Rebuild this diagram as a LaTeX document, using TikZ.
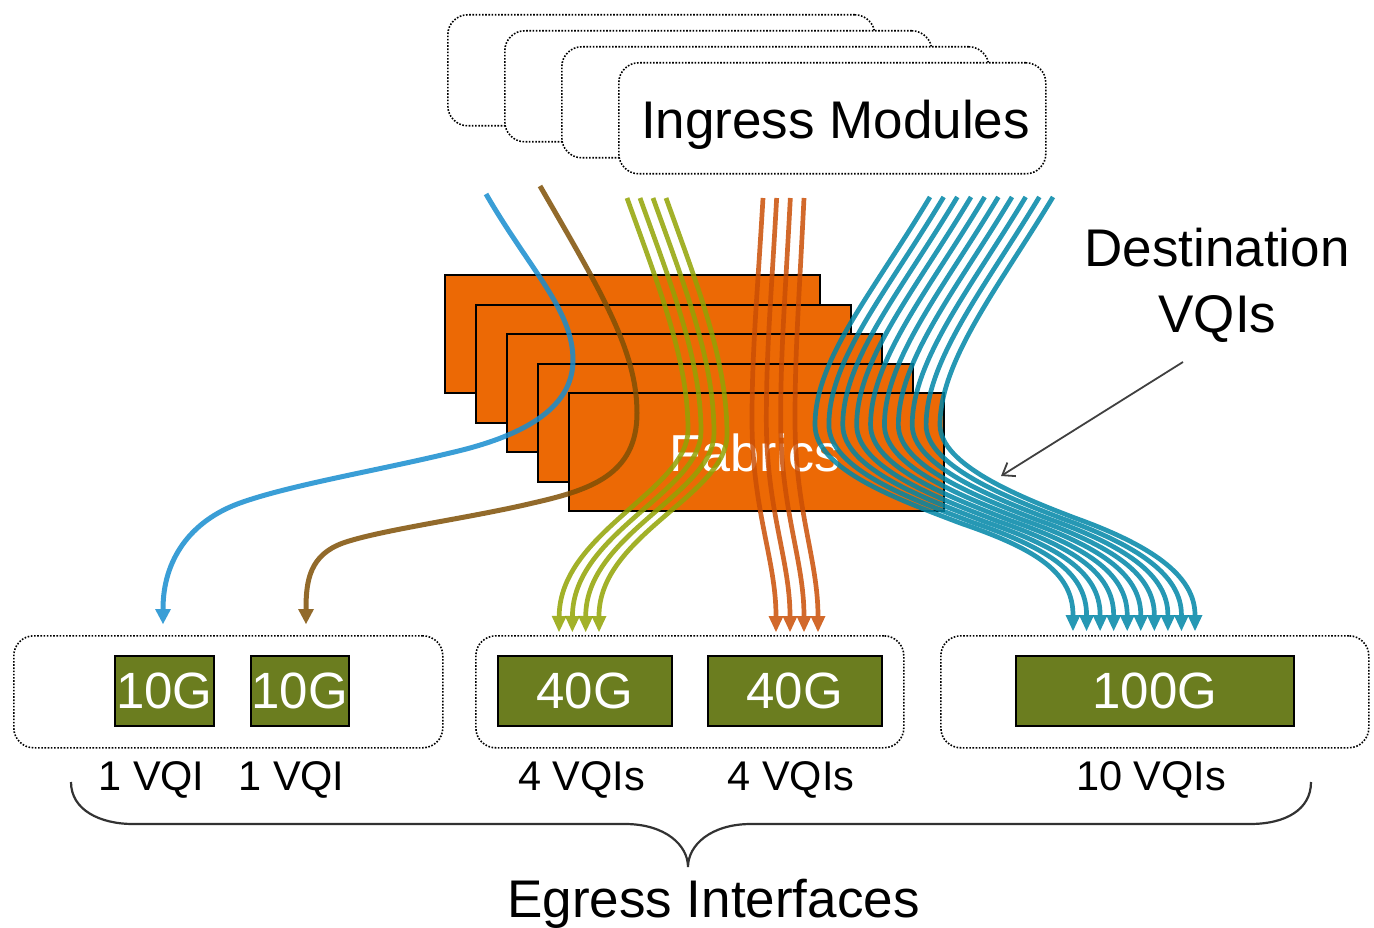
\documentclass[tikz,border=0pt]{standalone}
\usepackage{fontspec}
\setmainfont{Liberation Sans}
\usetikzlibrary{arrows.meta,calc}
\definecolor{fabricorange}{RGB}{236,105,5}
\definecolor{portolive}{RGB}{107,125,31}
\definecolor{flowblue}{RGB}{24,141,207}
\definecolor{flowbrown}{RGB}{127,80,6}
\definecolor{flowgreen}{RGB}{146,163,4}
\definecolor{floworange}{RGB}{202,79,6}
\definecolor{flowteal}{RGB}{0,134,167}
\definecolor{bracegray}{RGB}{50,50,50}
\definecolor{ptrgray}{RGB}{64,64,64}
\tikzset{
  dotbox/.style={draw=black, line width=1.6pt, dash pattern=on 1.6pt off 1.6pt, rounded corners=20pt, anchor=north west, inner sep=0pt},
  ingbox/.style={dotbox, fill=white, minimum width=427pt, minimum height=111pt},
  egbox/.style={dotbox, minimum height=112pt},
  fabricbox/.style={draw=black, line width=1.6pt, fill=fabricorange, anchor=north west, minimum width=375pt, minimum height=118pt, inner sep=0pt},
  portbox/.style={draw=black, line width=1.6pt, fill=portolive, anchor=north west, minimum height=70pt, inner sep=0pt, text=white, font=\fontsize{51}{60}\selectfont},
  bigtext/.style={font=\fontsize{53}{60}\selectfont, inner sep=0pt, anchor=base},
  vqitext/.style={font=\fontsize{41.5}{50}\selectfont, inner sep=0pt, anchor=base},
  bundleflow/.style={line width=4.7pt, opacity=0.85, -{Triangle[width=15pt,length=16pt,line width=0pt]}},
  singleflow/.style={line width=5pt, opacity=0.85, -{Triangle[width=16pt,length=15pt,line width=0pt]}},
  bracestyle/.style={draw=bracegray, line width=2.2pt},
  pointer/.style={draw=ptrgray, line width=1.8pt, -{Straight Barb[length=11pt,width=16pt]}},
}
\begin{document}
\begin{tikzpicture}[x=1pt,y=-1pt]
\useasboundingbox (0,0) rectangle (1374,928);

% Ingress modules
\node[ingbox] (im1) at (447,14) {};
\node[ingbox] (im2) at (504,30) {};
\node[ingbox] (im3) at (561,46) {};
\node[ingbox] (im4) at (618,62) {};
\node[bigtext] (imlabel) at (835.5,139) {Ingress Modules};

% Fabrics
\node[fabricbox] (fab1) at (444,274) {};
\node[fabricbox] (fab2) at (475,304) {};
\node[fabricbox] (fab3) at (506,333) {};
\node[fabricbox] (fab4) at (537,363) {};
\node[fabricbox] (fab5) at (568,392) {};
\node[bigtext, text=white, font=\fontsize{52}{60}\selectfont] (fablabel) at (755,471) {Fabrics};

% single flows
\coordinate (bS) at (486,194);
\coordinate (bE) at (163,624);
\draw[singleflow, flowblue] (bS) .. controls (530,270) and (573,310) .. (573,360)
  .. controls (573,410) and (520,437) .. (450,453)
  .. controls (380,470) and (290,485) .. (240,503)
  .. controls (190,521) and (163,560) .. (bE);
\coordinate (rS) at (540,186);
\coordinate (rE) at (306,624);
\draw[singleflow, flowbrown] (rS) .. controls (600,290) and (637,350) .. (637,413)
  .. controls (637,475) and (590,490) .. (533,503)
  .. controls (470,518) and (380,530) .. (343,543)
  .. controls (310,555) and (306,580) .. (rE);

% bundle control points
\foreach \n/\ax/\ay/\bx/\by in {0/627/198/666/198, 1/660/290/699/290, 2/688/360/727/360, 3/688/430/727/435, 4/688/490/727/495, 5/560/532/599/535, 6/559/632/599/632}{
  \coordinate (gA\n) at (\ax,\ay); \coordinate (gB\n) at (\bx,\by);}
\foreach \n/\ax/\ay/\bx/\by in {0/763/198/804/198, 1/757/300/799/300, 2/752/350/795/350, 3/752/420/795/420, 4/752/510/795/510, 5/776/560/818/560, 6/776/632/818/632}{
  \coordinate (oA\n) at (\ax,\ay); \coordinate (oB\n) at (\bx,\by);}
\foreach \n/\ax/\ay/\bx/\by in {0/930/197/1053/197, 1/870/297/1000/285, 2/815/360/940/360, 3/815/425/940/425, 4/815/470/940/465, 5/900/500/1020/497, 6/960/523/1075/518, 7/1030/547/1150/545, 8/1073/570/1195/575, 9/1073/631/1195/631}{
  \coordinate (tA\n) at (\ax,\ay); \coordinate (tB\n) at (\bx,\by);}

% green bundle
\foreach \i in {0,...,3}{
  \pgfmathsetmacro{\mix}{\i/3}
  \draw[bundleflow, flowgreen] ($(gA0)!\mix!(gB0)$) .. controls ($(gA1)!\mix!(gB1)$) and ($(gA2)!\mix!(gB2)$) .. ($(gA3)!\mix!(gB3)$)
    .. controls ($(gA4)!\mix!(gB4)$) and ($(gA5)!\mix!(gB5)$) .. ($(gA6)!\mix!(gB6)$);
}
% orange bundle
\foreach \i in {0,...,3}{
  \pgfmathsetmacro{\mix}{\i/3}
  \draw[bundleflow, floworange] ($(oA0)!\mix!(oB0)$) .. controls ($(oA1)!\mix!(oB1)$) and ($(oA2)!\mix!(oB2)$) .. ($(oA3)!\mix!(oB3)$)
    .. controls ($(oA4)!\mix!(oB4)$) and ($(oA5)!\mix!(oB5)$) .. ($(oA6)!\mix!(oB6)$);
}
% teal bundle
\foreach \i in {0,...,9}{
  \pgfmathsetmacro{\mix}{\i/9}
  \draw[bundleflow, flowteal] ($(tA0)!\mix!(tB0)$) .. controls ($(tA1)!\mix!(tB1)$) and ($(tA2)!\mix!(tB2)$) .. ($(tA3)!\mix!(tB3)$)
    .. controls ($(tA4)!\mix!(tB4)$) and ($(tA5)!\mix!(tB5)$) .. ($(tA6)!\mix!(tB6)$)
    .. controls ($(tA7)!\mix!(tB7)$) and ($(tA8)!\mix!(tB8)$) .. ($(tA9)!\mix!(tB9)$);
}

% Egress
\node[egbox, minimum width=429pt] (eg1) at (13,635) {};
\node[egbox, minimum width=428pt] (eg2) at (475,635) {};
\node[egbox, minimum width=428pt] (eg3) at (940,635) {};
\node[portbox, minimum width=99pt] (p10a) at (114,655) {10G};
\node[portbox, minimum width=98pt] (p10b) at (250,655) {10G};
\node[portbox, minimum width=174pt] (p40a) at (497,655) {40G};
\node[portbox, minimum width=174pt] (p40b) at (707,655) {40G};
\node[portbox, minimum width=278pt] (p100) at (1015,655) {100G};

\node[vqitext] (v1) at (151.5,790) {1 VQI};
\node[vqitext] (v2) at (291.5,790) {1 VQI};
\node[vqitext] (v3) at (581.5,790) {4 VQIs};
\node[vqitext] (v4) at (791,790) {4 VQIs};
\node[vqitext] (v5) at (1151,790) {10 VQIs};

% brace
\coordinate (brL) at (71,782);
\coordinate (brM) at (688,867);
\coordinate (brR) at (1311,782);
\draw[bracestyle] (brL) .. controls (71,810) and (100,824) .. (133,824) -- (625,824)
  .. controls (665,824) and (688,845) .. (brM)
  .. controls (688,845) and (711,824) .. (751,824) -- (1250,824)
  .. controls (1285,824) and (1311,810) .. (brR);
\node[bigtext] (eglabel) at (713.5,917) {Egress Interfaces};

% destination
\node[bigtext] (dest1) at (1217,267) {Destination};
\node[bigtext] (dest2) at (1217.5,332) {VQIs};
\coordinate (ptrS) at (1183,362);
\coordinate (ptrE) at (1001,476);
\draw[pointer] (ptrS) -- (ptrE);
\end{tikzpicture}
\end{document}
